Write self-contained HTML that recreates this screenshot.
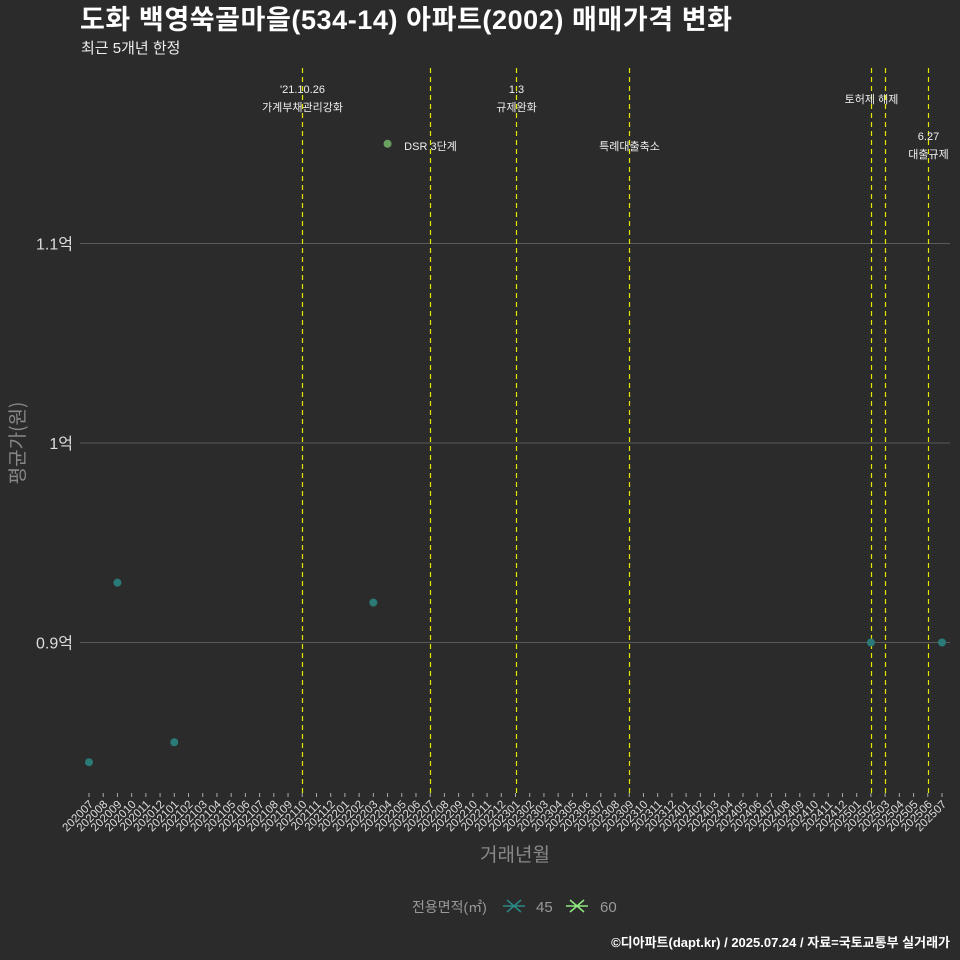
<!DOCTYPE html>
<html><head><meta charset="utf-8"><style>
body{margin:0;background:#2b2b2b;}
svg{display:block;font-family:"Liberation Sans","Noto Sans CJK KR",sans-serif;}
</style></head><body>
<svg id="c" width="960" height="960">
<rect width="960" height="960" fill="#2b2b2b"/>
<text x="80" y="29" fill="#fff" font-size="27" font-weight="bold" textLength="652">도화 백영쑥골마을(534-14) 아파트(2002) 매매가격 변화</text>
<text x="81" y="53" fill="#eee" font-size="15">최근 5개년 한정</text>
<g id="grid"></g><g id="vlines"></g><g id="xt"></g><g id="pts"></g>
<text transform="translate(24,443) rotate(-90)" text-anchor="middle" fill="#888" font-size="19" font-family="'Noto Sans CJK KR',sans-serif">평균가(원)</text>
<text x="515" y="861" text-anchor="middle" fill="#888" font-size="19">거래년월</text>
<g>
<text x="412" y="912" fill="#999" font-size="14">전용면적(㎡)</text>
<g><path d="M503 906h22M507 900l14 12M507 912l14-12" stroke="#2a8a86" stroke-width="1.5"/><text x="536" y="912" fill="#999" font-size="15">45</text></g>
<g><path d="M566 906h22M570 900l14 12M570 912l14-12" stroke="#90e880" stroke-width="1.5"/><text x="600" y="912" fill="#999" font-size="15">60</text></g>
</g>
<text x="950" y="947" text-anchor="end" fill="#fff" font-size="13" font-weight="bold">©디아파트(dapt.kr) / 2025.07.24 / 자료=국토교통부 실거래가</text>
</svg>
<script>
const months=[];for(let y=2020;y<=2025;y++)for(let m=1;m<=12;m++){if((y==2020&&m<7)||(y==2025&&m>7))continue;months.push(y+String(m).padStart(2,'0'));}
const yTicks=[9000,10000,11000];
const yTickLabels=['0.9억','1억','1.1억'];
const s45Months=['202007','202009','202101','202203','202502','202507'];
const s45Values=[8400,9300,8500,9200,9000,9000];
const s60Months=['202204'];
const s60Values=[11500];
const evMonths=['202110','202207','202301','202309','202502','202503','202506'];
const evLabels=[["'21.10.26","가계부채관리강화"],["DSR 3단계"],["1.3","규제완화"],["특례대출축소"],["토허제 해제"],[],["6.27","대출규제"]];
const NS='http://www.w3.org/2000/svg';
const X=i=>89+i*(942-89)/60, xm=m=>X(months.indexOf(m));
const Y=v=>443-(v-10000)*0.1995;
function mk(p,t,a){const e=document.createElementNS(NS,t);for(const k in a)e.setAttribute(k,a[k]);document.getElementById(p).appendChild(e);return e;}
yTicks.forEach((v,i)=>{
 let l=mk('grid','line',{x1:80,x2:950,y1:Y(v),y2:Y(v),stroke:'#5a5a5a','stroke-width':1});
 
 
 let t=mk('grid','text',{x:73,y:Y(v)+6,'text-anchor':'end',fill:'#ddd','font-size':16});t.textContent=yTickLabels[i];
 
 
});
months.forEach((m,i)=>{
 let x=X(i);
 let tk=mk('xt','line',{x1:x,x2:x,y1:793,y2:797,stroke:'#aaa'});
 
 
 let t=mk('xt','text',{transform:`translate(${x+5},${805}) rotate(-45)`,'text-anchor':'end',fill:'#ddd','font-size':11.5});t.textContent=m;
 
 
});
const labY=[[93,111],[150],[93,111],[150],[103],[],[140,158]];
evMonths.forEach((m,i)=>{
 let x=Math.round(xm(m))+0.5;
 let l=mk('vlines','line',{x1:x,x2:x,y1:68,y2:793,stroke:'#e6e600','stroke-width':1.2,'stroke-dasharray':'5,4'});
 
 
 evLabels[i].forEach((s,j)=>{
  let t=mk('vlines','text',{x:x,y:labY[i][j],'text-anchor':'middle',fill:'#eee','font-size':11});t.textContent=s;
  
  
 });
});
s45Months.forEach((m,i)=>{
 let c=mk('pts','circle',{cx:xm(m),cy:Y(s45Values[i]),r:4,fill:'#2a7a78'});
 
 
});
s60Months.forEach((m,i)=>{
 let c=mk('pts','circle',{cx:xm(m),cy:Y(s60Values[i]),r:4,fill:'#6aa060'});
 
 
});
</script>
</body></html>
